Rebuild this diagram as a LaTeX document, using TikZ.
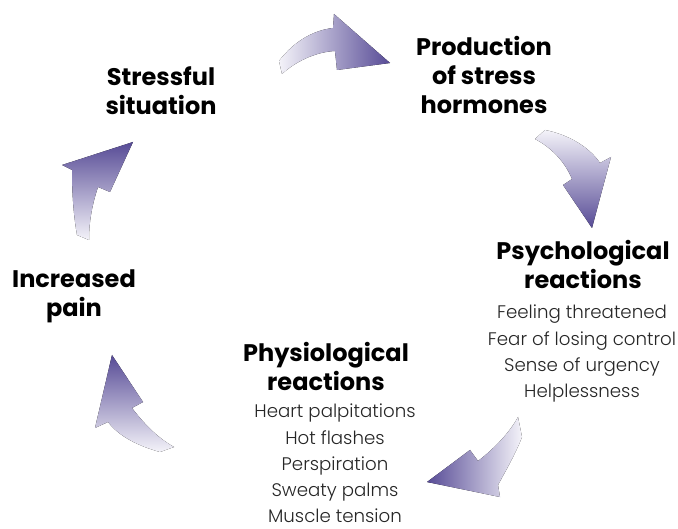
\documentclass[tikz,border=0pt]{standalone}
\usepackage{fontspec}
\setmainfont{Poppins}
\newfontfamily\lightf{Poppins}[UprightFont=* Light]
\definecolor{arrdark}{HTML}{574B96}
\definecolor{arrlight}{HTML}{F4F3F9}
\tikzset{
  headtxt/.style={font=\fontsize{24}{29}\selectfont\bfseries, align=center, inner sep=0pt, anchor=north},
  listtxt/.style={font=\lightf\fontsize{18.2}{26.2}\selectfont, align=center, inner sep=0pt, anchor=north, text=black!85},
  cyc/.style={draw=none}
}
\begin{document}
\begin{tikzpicture}[x=1pt,y=-1pt]
\useasboundingbox (0,0) rectangle (678,529);
% texts
\node[headtxt] (stress) at (161,66) {Stressful\\situation};
\node[headtxt] (prod) at (484,36) {Production\\of stress\\hormones};
\node[headtxt] (psych) at (583,240) {Psychological\\reactions};
\node[listtxt] (psychl) at (582,305) {Feeling threatened\\Fear of losing control\\Sense of urgency\\Helplessness};
\node[headtxt] (phys) at (326,342) {Physiological\\reactions};
\node[listtxt] (physl) at (335,404) {Heart palpitations\\Hot flashes\\Perspiration\\Sweaty palms\\Muscle tension};
\node[headtxt] (pain) at (74,270) {Increased\\pain};
% arrows
\fill[cyc, left color=arrlight, right color=arrdark]
 (279,61) .. controls (295,40) and (315,30) .. (333,28) -- (334,14) -- (390,63) -- (337,70) -- (335,51) .. controls (315,52) and (295,62) .. (282,74) -- cycle;
\fill[cyc, top color=arrlight, bottom color=arrdark]
 (545,130) .. controls (570,135) and (590,148) .. (600,163) -- (611,157) -- (592,228) -- (563,185) -- (572,179) .. controls (565,162) and (552,148) .. (535,139) -- cycle;
\fill[cyc, left color=arrdark, right color=arrlight]
 (522,437) .. controls (515,455) and (505,472) .. (498,485) -- (500,497) -- (427,482) -- (470,450) -- (478,461) .. controls (495,448) and (510,432) .. (518,417) -- cycle;
\fill[cyc, top color=arrdark, bottom color=arrlight]
 (132,408) .. controls (145,425) and (158,438) .. (174,447) -- (160,452) .. controls (135,445) and (118,435) .. (108,422) -- (95,428) -- (112,355) -- (143,402) -- cycle;
\fill[cyc, top color=arrdark, bottom color=arrlight]
 (98,187) .. controls (92,205) and (89,222) .. (89,240) -- (77,235) .. controls (73,212) and (72,190) .. (72,170) -- (62,165) -- (133,142) -- (110,192) -- cycle;
\end{tikzpicture}
\end{document}
